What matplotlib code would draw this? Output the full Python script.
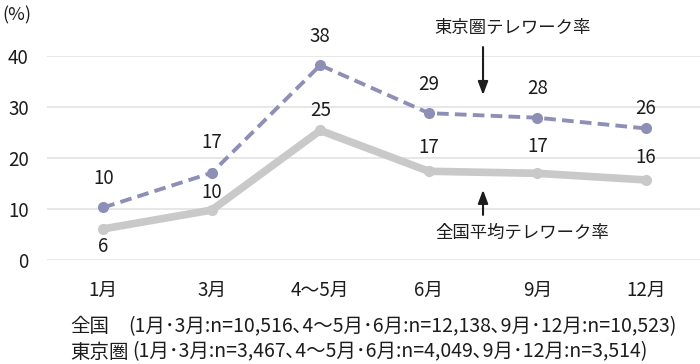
import matplotlib
matplotlib.use("Agg")
import matplotlib.pyplot as plt

plt.rcParams['font.family'] = ['Noto Sans CJK JP', 'DejaVu Sans']

months = ['1月', '3月', '4～5月', '6月', '9月', '12月']
tokyo = [10.3, 17.1, 38.2, 28.8, 27.9, 25.8]
tokyo_labels = ['10', '17', '38', '29', '28', '26']
zenkoku = [6.1, 9.8, 25.4, 17.4, 17.0, 15.7]
zenkoku_labels = ['6', '10', '25', '17', '17', '16']

# label offsets in pixels (vertical)
tokyo_off = [29, 30, 29, 29, 29, 20]
zenkoku_off = [-18, 18, 20, 24, 27, 22]

TXT = '#1c1c1c'

fig = plt.figure(figsize=(7, 3.64), dpi=100)
ax = fig.add_axes([0.067, 0.2857, 0.933, 0.5604])

x = range(len(months))
ax.plot(x, zenkoku, color='#C9C9C9', lw=5.5, marker='o', ms=7, solid_capstyle='round', zorder=3, clip_on=False)
ax.plot(x, tokyo, color='#8E8FB6', lw=2.8, ls=(0, (3, 1.6)), marker='o', ms=7, zorder=4, clip_on=False)

for i in x:
    ax.annotate(tokyo_labels[i], (i, tokyo[i]), xytext=(0, tokyo_off[i]), textcoords='offset pixels',
                ha='center', va='center', fontsize=13.5, color=TXT)
    ax.annotate(zenkoku_labels[i], (i, zenkoku[i]), xytext=(0, zenkoku_off[i]), textcoords='offset pixels',
                ha='center', va='center', fontsize=13.5, color=TXT)

ax.set_xlim(-0.52, 5.5)
ax.set_ylim(0, 40)
ax.set_yticks([0, 10, 20, 30, 40])
ax.set_xticks(list(x))
ax.set_xticklabels(months)
ax.grid(axis='y', color='#E3E3E3', lw=1.2)
ax.set_axisbelow(True)
for s in ax.spines.values():
    s.set_visible(False)
ax.tick_params(axis='both', length=0, labelsize=13.5, colors=TXT)
ax.tick_params(axis='x', pad=14)
ax.tick_params(axis='y', pad=13)

# annotations
ax.annotate('', xy=(3.5, 31.8), xytext=(3.5, 42.3),
            arrowprops=dict(arrowstyle='-|>,head_width=0.3,head_length=0.8', color=TXT, lw=1.5))
ax.text(3.77, 45.5, '東京圏テレワーク率', ha='center', va='center', fontsize=12.5, color=TXT)
ax.annotate('', xy=(3.5, 14.3), xytext=(3.5, 8.3),
            arrowprops=dict(arrowstyle='-|>,head_width=0.3,head_length=0.8', color=TXT, lw=1.5))
ax.text(3.86, 5.3, '全国平均テレワーク率', ha='center', va='center', fontsize=12.5, color=TXT)

fig.text(2 / 700, 1 - 15 / 364, '(%)', ha='left', va='center', fontsize=13, color=TXT)

fig.text(70 / 700, 1 - 327 / 364, '全国', ha='left', va='center', fontsize=14, color=TXT)
fig.text(128 / 700, 1 - 327 / 364, '(1月･3月:n=10,516､4～5月･6月:n=12,138､9月･12月:n=10,523)',
         ha='left', va='center', fontsize=14, color=TXT)
fig.text(70 / 700, 1 - 352 / 364, '東京圏', ha='left', va='center', fontsize=14, color=TXT)
fig.text(132 / 700, 1 - 352 / 364, '(1月･3月:n=3,467､4～5月･6月:n=4,049､9月･12月:n=3,514)',
         ha='left', va='center', fontsize=14, color=TXT)

fig.savefig('out.png', dpi=100)
